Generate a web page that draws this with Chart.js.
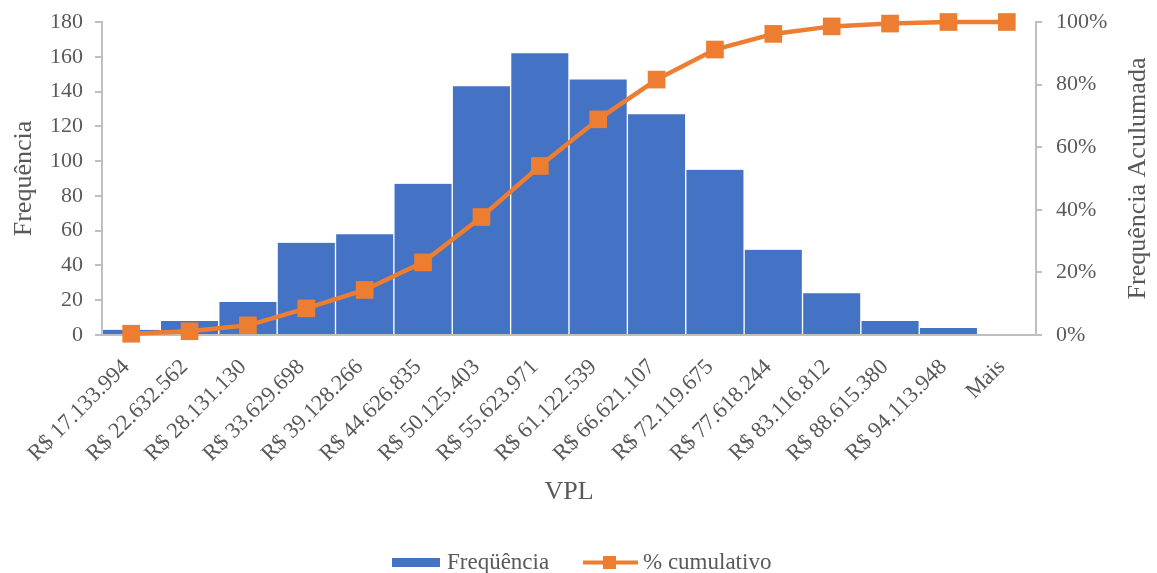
<!DOCTYPE html>
<html>
<head>
<meta charset="utf-8">
<script src="https://cdn.jsdelivr.net/npm/chart.js@4/dist/chart.umd.min.js"></script>
<style>
  html, body { margin: 0; padding: 0; background: #ffffff; }
  #wrap { width: 1157px; height: 573px; }
</style>
</head>
<body>
<div id="wrap"><canvas id="c" width="1157" height="573"></canvas></div>
<script>
// Histogram bins (upper limit of each VPL class)
const bins = [
  'R$ 17.133.994', 'R$ 22.632.562', 'R$ 28.131.130', 'R$ 33.629.698',
  'R$ 39.128.266', 'R$ 44.626.835', 'R$ 50.125.403', 'R$ 55.623.971',
  'R$ 61.122.539', 'R$ 66.621.107', 'R$ 72.119.675', 'R$ 77.618.244',
  'R$ 83.116.812', 'R$ 88.615.380', 'R$ 94.113.948', 'Mais'
];
// Count of simulations per bin
const frequencia = [3, 8, 19, 53, 58, 87, 143, 162, 147, 127, 95, 49, 24, 8, 4, 0];
// Cumulative share (%)
const cumulativo = [0.4, 1.2, 3.1, 8.5, 14.4, 23.2, 37.7, 54.0, 68.9, 81.6, 91.2, 96.2, 98.6, 99.5, 100, 100];

const FONT = '"Liberation Serif", "Times New Roman", serif';
const TEXT = '#595959';
const AXIS = '#bfbfbf';
const BLUE = '#4472C4';
const ORANGE = '#ED7D31';

// Legend and right-hand axis title drawn by hand
const extras = {
  id: 'extras',
  afterDraw(chart) {
    const ctx = chart.ctx;
    ctx.save();
    // right axis title, reading bottom-to-top
    const ca = chart.chartArea;
    ctx.translate(1138, (ca.top + ca.bottom) / 2);
    ctx.rotate(-Math.PI / 2);
    ctx.font = '26px ' + FONT;
    ctx.fillStyle = TEXT;
    ctx.textAlign = 'center';
    ctx.textBaseline = 'middle';
    ctx.fillText('Frequência Aculumada', 0, 0);
    ctx.restore();

    ctx.save();
    ctx.font = '23px ' + FONT;
    ctx.fillStyle = TEXT;
    ctx.textAlign = 'left';
    ctx.textBaseline = 'alphabetic';
    // bar entry
    ctx.fillStyle = BLUE;
    ctx.fillRect(392, 558, 48, 9);
    ctx.fillStyle = TEXT;
    ctx.fillText(chart.data.datasets[1].label, 447, 569);
    // line entry
    ctx.strokeStyle = ORANGE;
    ctx.lineWidth = 4;
    ctx.beginPath();
    ctx.moveTo(583, 562.5);
    ctx.lineTo(638, 562.5);
    ctx.stroke();
    ctx.fillStyle = ORANGE;
    ctx.fillRect(603, 556, 13, 13);
    ctx.fillStyle = TEXT;
    ctx.fillText(chart.data.datasets[0].label, 643, 569);
    ctx.restore();
  }
};

// keep the plot area fixed: vertical axes do not reserve label overflow
function noVPad(s) { s.paddingTop = 0; s.paddingBottom = 0; }

new Chart(document.getElementById('c'), {
  data: {
    labels: bins,
    datasets: [
      {
        type: 'line',
        label: '% cumulativo',
        data: cumulativo,
        yAxisID: 'y2',
        borderColor: ORANGE,
        borderWidth: 4.5,
        pointStyle: 'rect',
        pointRadius: 12.5,
        pointBackgroundColor: ORANGE,
        pointBorderColor: ORANGE,
        pointBorderWidth: 0,
        tension: 0,
        clip: false,
        order: 0
      },
      {
        type: 'bar',
        label: 'Freqüência',
        data: frequencia,
        yAxisID: 'y',
        backgroundColor: BLUE,
        borderColor: '#ffffff',
        borderWidth: { left: 1, right: 1, top: 0, bottom: 0 },
        borderSkipped: false,
        barPercentage: 1,
        categoryPercentage: 1,
        order: 1
      }
    ]
  },
  options: {
    responsive: false,
    animation: false,
    devicePixelRatio: 1,
    layout: { padding: { top: 22, left: 0, right: 0, bottom: 0 } },
    plugins: {
      legend: { display: false },
      tooltip: { enabled: false }
    },
    scales: {
      x: {
        type: 'category',
        offset: true,
        grid: { display: true, drawOnChartArea: false, drawTicks: false, color: AXIS },
        border: { display: true, color: AXIS, width: 2 },
        ticks: {
          minRotation: 45, maxRotation: 45, autoSkip: false,
          color: TEXT, font: { family: FONT, size: 22.5 }, padding: 19, labelOffset: -5
        },
        title: {
          display: true, text: 'VPL', color: TEXT,
          font: { family: FONT, size: 26 }, padding: { top: 0, bottom: 65 }
        },
        afterFit(s) { s.height = 573 - 335; s.paddingLeft = 0; s.paddingRight = 0; }
      },
      y: {
        position: 'left',
        min: 0, max: 180,
        grid: { drawOnChartArea: false, drawTicks: true, tickLength: 7, color: AXIS, lineWidth: 2 },
        border: { display: true, color: AXIS, width: 2 },
        ticks: { stepSize: 20, color: TEXT, font: { family: FONT, size: 22 }, padding: 12 },
        title: {
          display: true, text: 'Frequência', color: TEXT,
          font: { family: FONT, size: 26 }, padding: { top: 9, bottom: 0 }
        },
        afterFit(s) { s.width = 102; noVPad(s); }
      },
      y2: {
        position: 'right',
        min: 0, max: 100,
        grid: { drawOnChartArea: false, drawTicks: true, tickLength: 6, color: AXIS, lineWidth: 2 },
        border: { display: true, color: AXIS, width: 2 },
        ticks: {
          stepSize: 20, color: TEXT, font: { family: FONT, size: 22 }, padding: 14,
          callback: v => v + '%'
        },
        afterFit(s) { s.width = 1157 - 1036; noVPad(s); }
      }
    }
  },
  plugins: [extras]
});
</script>
</body>
</html>
